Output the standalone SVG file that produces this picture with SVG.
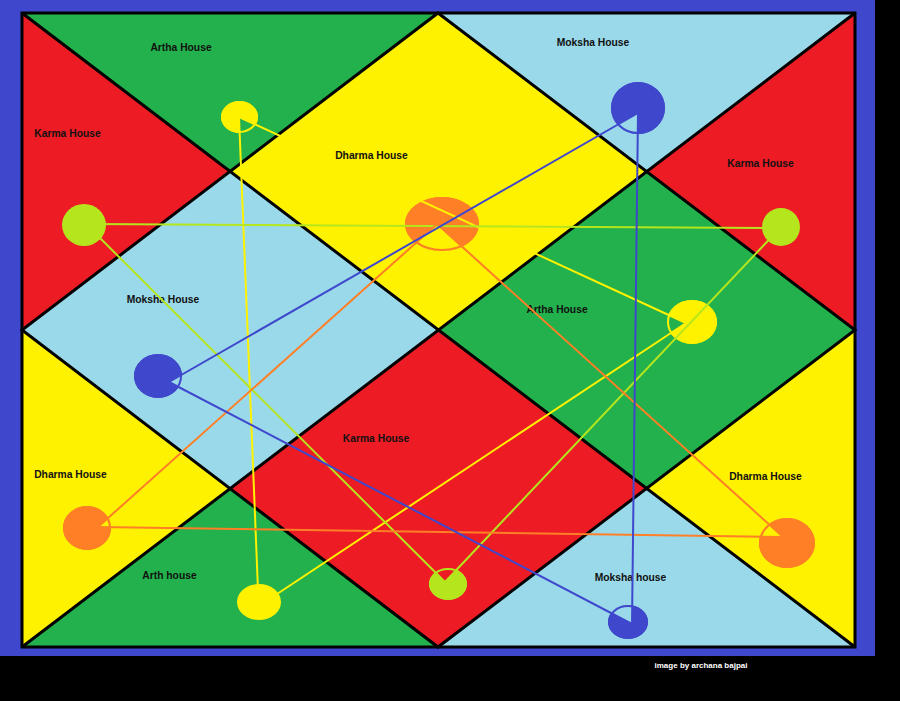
<svg xmlns="http://www.w3.org/2000/svg" width="900" height="701" viewBox="0 0 900 701">
<style>
.g{fill:#22b14c}.r{fill:#ed1c24}.y{fill:#fff200}.lb{fill:#99d9ea}
.grid{fill:none;stroke:#000;stroke-width:3;stroke-linejoin:miter}
.lbl{font-family:"Liberation Sans",Arial,sans-serif;font-weight:bold;font-size:10.3px;fill:#111;text-anchor:middle}
.cr{fill:none;stroke:#fff200;stroke-width:2}
.ln{fill:none;stroke-width:2;stroke-linecap:round}
.ly{stroke:#fff200}.lg{stroke:#b5e61d}.lo{stroke:#ff7f27}.lbu{stroke:#3f48cc}
</style>
<defs>
<clipPath id="cY1"><ellipse cx="239.5" cy="117" rx="18.5" ry="16"/></clipPath>
<clipPath id="cY2"><ellipse cx="692" cy="322" rx="25" ry="22"/></clipPath>
<clipPath id="cG3"><ellipse cx="448" cy="584" rx="19" ry="16"/></clipPath>
<clipPath id="cO1"><ellipse cx="442" cy="224" rx="37" ry="27"/></clipPath>
<clipPath id="cO2"><ellipse cx="87" cy="528" rx="24" ry="22"/></clipPath>
<clipPath id="cO3"><ellipse cx="787" cy="543" rx="28" ry="25"/></clipPath>
<clipPath id="cB1"><ellipse cx="638" cy="108" rx="27" ry="26"/></clipPath>
<clipPath id="cB2"><ellipse cx="158" cy="376" rx="24" ry="22"/></clipPath>
<clipPath id="cB3"><ellipse cx="628" cy="622" rx="20" ry="17"/></clipPath>
</defs>
<rect x="0" y="0" width="900" height="701" fill="#000"/>
<rect x="0" y="0" width="875" height="656" fill="#3f48cc"/>

<g id="houses">
<g id="house-artha-top"><polygon class="g" points="22,13 438,13 230,171.5"/><text class="lbl" x="181" y="51">Artha House</text></g>
<g id="house-karma-left"><polygon class="r" points="22,13 230,171.5 22,330"/><text class="lbl" x="67.5" y="137">Karma House</text></g>
<g id="house-moksha-topright"><polygon class="lb" points="438,13 855,13 646.5,171.5"/><text class="lbl" x="593" y="46">Moksha House</text></g>
<g id="house-karma-right"><polygon class="r" points="855,13 855,330 646.5,171.5"/><text class="lbl" x="760.5" y="167">Karma House</text></g>
<g id="house-dharma-top"><polygon class="y" points="438,13 646.5,171.5 438.5,330 230,171.5"/><text class="lbl" x="371.5" y="159">Dharma House</text></g>
<g id="house-moksha-left"><polygon class="lb" points="22,330 230,171.5 438.5,330 230,488.5"/><text class="lbl" x="163" y="303">Moksha House</text></g>
<g id="house-artha-right"><polygon class="g" points="438.5,330 646.5,171.5 855,330 646.5,488.5"/><text class="lbl" x="557" y="313">Artha House</text></g>
<g id="house-karma-center"><polygon class="r" points="438.5,330 646.5,488.5 438,647 230,488.5"/><text class="lbl" x="376" y="442">Karma House</text></g>
<g id="house-dharma-left"><polygon class="y" points="22,330 230,488.5 22,647"/><text class="lbl" x="70.5" y="478">Dharma House</text></g>
<g id="house-arth-bottom"><polygon class="g" points="22,647 230,488.5 438,647"/><text class="lbl" x="169.5" y="579">Arth house</text></g>
<g id="house-moksha-bottom"><polygon class="lb" points="438,647 646.5,488.5 855,647"/><text class="lbl" x="630.5" y="581">Moksha house</text></g>
<g id="house-dharma-right"><polygon class="y" points="855,330 855,647 646.5,488.5"/><text class="lbl" x="765.5" y="480">Dharma House</text></g>
</g>

<g id="grid">
<rect class="grid" x="22" y="13" width="833" height="634"/>
<path class="grid" d="M22,13 L855,647 M855,13 L22,647 M438,13 L855,330 L438,647 L22,330 Z"/>
</g>

<g id="planets">
<g id="y1"><ellipse cx="239.5" cy="117" rx="18.5" ry="16" fill="#fff200"/><polygon class="g" clip-path="url(#cY1)" points="239,117 306,148 242,187"/><ellipse class="cr" cx="239.5" cy="117" rx="17.5" ry="15"/></g>
<g id="y2"><ellipse cx="692" cy="322" rx="25" ry="22" fill="#fff200"/><polygon class="g" clip-path="url(#cY2)" points="686,323 619,292 625,364"/><ellipse class="cr" cx="692" cy="322" rx="24" ry="21"/></g>
<g id="y3"><ellipse cx="259" cy="602" rx="22" ry="18" fill="#fff200"/></g>
<g id="g1"><ellipse cx="84" cy="225" rx="22" ry="21" fill="#b5e61d"/></g>
<g id="g2"><ellipse cx="781" cy="227" rx="19" ry="19" fill="#b5e61d"/></g>
<g id="g3"><ellipse cx="448" cy="584" rx="19" ry="16" fill="#b5e61d"/><polygon class="r" clip-path="url(#cG3)" points="445,582 394,531 495,529"/><ellipse cx="448" cy="584" rx="18" ry="15" fill="none" stroke="#b5e61d" stroke-width="2"/></g>
<g id="o1"><ellipse cx="442" cy="224" rx="37" ry="27" fill="#ff7f27"/><polygon class="y" clip-path="url(#cO1)" points="437,224 369,285 506,287"/><ellipse cx="442" cy="224" rx="36" ry="26" fill="none" stroke="#ff7f27" stroke-width="2"/></g>
<g id="o2"><ellipse cx="87" cy="528" rx="24" ry="22" fill="#ff7f27"/><polygon class="y" clip-path="url(#cO2)" points="98,527 166,466 168,528"/><ellipse cx="87" cy="528" rx="23" ry="21" fill="none" stroke="#ff7f27" stroke-width="2"/></g>
<g id="o3"><ellipse cx="787" cy="543" rx="28" ry="25" fill="#ff7f27"/><polygon class="y" clip-path="url(#cO3)" points="783,537 714,474 714,536"/><ellipse cx="787" cy="543" rx="27" ry="24" fill="none" stroke="#ff7f27" stroke-width="2"/></g>
<g id="b1"><ellipse cx="638" cy="108" rx="27" ry="26" fill="#3f48cc"/><polygon class="lb" clip-path="url(#cB1)" points="638,113 544,167 637,215"/><ellipse cx="638" cy="108" rx="26" ry="25" fill="none" stroke="#3f48cc" stroke-width="2"/></g>
<g id="b2"><ellipse cx="158" cy="376" rx="24" ry="22" fill="#3f48cc"/><polygon class="lb" clip-path="url(#cB2)" points="169,382 263,328 262,430"/><ellipse cx="158" cy="376" rx="23" ry="21" fill="none" stroke="#3f48cc" stroke-width="2"/></g>
<g id="b3"><ellipse cx="628" cy="622" rx="20" ry="17" fill="#3f48cc"/><polygon class="lb" clip-path="url(#cB3)" points="632,624 633,522 539,576"/><ellipse cx="628" cy="622" rx="19" ry="16" fill="none" stroke="#3f48cc" stroke-width="2"/></g>
</g>

<g id="connectors">
<line class="ln ly" x1="239" y1="117" x2="686" y2="323"/>
<line class="ln ly" x1="239" y1="117" x2="258" y2="590"/>
<line class="ln ly" x1="262" y1="604" x2="686" y2="323"/>
<line class="ln lg" x1="90" y1="224" x2="781" y2="228"/>
<line class="ln lg" x1="98" y1="236" x2="445" y2="582"/>
<line class="ln lg" x1="445" y1="582" x2="781" y2="227"/>
<line class="ln lo" x1="437" y1="224" x2="98" y2="527"/>
<line class="ln lo" x1="437" y1="224" x2="783" y2="537"/>
<line class="ln lo" x1="98" y1="527" x2="783" y2="537"/>
<line class="ln lbu" x1="638" y1="113" x2="169" y2="382"/>
<line class="ln lbu" x1="638" y1="113" x2="632" y2="624"/>
<line class="ln lbu" x1="169" y1="382" x2="632" y2="624"/>
</g>

<text x="701" y="668" font-family="'Liberation Sans',Arial,sans-serif" font-weight="bold" font-size="8" fill="#fff" text-anchor="middle">image by archana bajpai</text>
</svg>
